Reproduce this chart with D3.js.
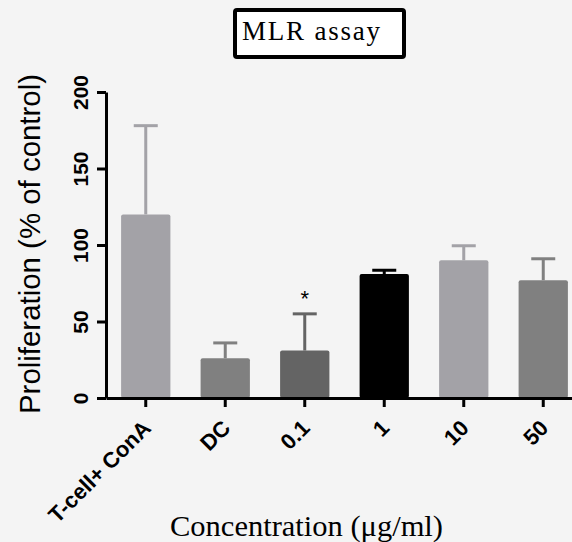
<!DOCTYPE html>
<html>
<head>
<meta charset="utf-8">
<script src="https://cdn.jsdelivr.net/npm/d3@7"></script>
<style>
  body { margin: 0; background: #f4f4f4; }
  svg { display: block; }
</style>
</head>
<body>
<div id="chart"></div>
<script>
// data
var categories = ["T-cell+ ConA", "DC", "0.1", "1", "10", "50"];
var means = [120, 26, 31, 81, 90, 77];
var errors = [58, 10, 24, 2.5, 9.5, 14];
var barColors = ["#a3a2a7", "#808080", "#646464", "#000000", "#a3a2a7", "#808080"];
var yTicks = [0, 50, 100, 150, 200];
var stars = ["", "", "*", "", "", ""];

var width = 572;
var height = 542;
var sans = "'Liberation Sans', Arial, Helvetica, sans-serif";
var serif = "'Liberation Serif', 'Times New Roman', Times, serif";

var svg = d3.select('#chart')
    .append('svg')
    .attr('width', width)
    .attr('height', height);

var data = categories.map(function(c, i) {
    return {cat: c, mean: means[i], err: errors[i], color: barColors[i], star: stars[i]};
});

var scaleX = d3.scaleBand()
    .domain(categories)
    .range([106, 583])
    .paddingInner(0.38)
    .paddingOuter(0.19);

var scaleY = d3.scaleLinear()
    .domain([0, 200])
    .range([398, 92]);

// bars
svg.append('g')
    .selectAll('rect')
    .data(data)
    .enter()
    .append('rect')
    .attr('x', (d) => scaleX(d.cat))
    .attr('y', (d) => scaleY(d.mean))
    .attr('width', scaleX.bandwidth())
    .attr('height', (d) => scaleY(0) - scaleY(d.mean))
    .attr('rx', 2)
    .attr('fill', (d) => d.color);

// error bars (upper only)
var err = svg.append('g')
    .selectAll('g')
    .data(data)
    .enter()
    .append('g')
    .attr('stroke', (d) => d.color)
    .attr('stroke-width', 3);

err.append('line')
    .attr('x1', (d) => scaleX(d.cat) + scaleX.bandwidth() / 2)
    .attr('x2', (d) => scaleX(d.cat) + scaleX.bandwidth() / 2)
    .attr('y1', (d) => scaleY(d.mean))
    .attr('y2', (d) => scaleY(d.mean + d.err));

err.append('line')
    .attr('x1', (d) => scaleX(d.cat) + scaleX.bandwidth() / 2 - 12)
    .attr('x2', (d) => scaleX(d.cat) + scaleX.bandwidth() / 2 + 12)
    .attr('y1', (d) => scaleY(d.mean + d.err))
    .attr('y2', (d) => scaleY(d.mean + d.err));

// significance star
svg.append('g')
    .selectAll('text')
    .data(data.filter((d) => d.star))
    .enter()
    .append('text')
    .attr('x', (d) => scaleX(d.cat) + scaleX.bandwidth() / 2)
    .attr('y', (d) => scaleY(d.mean + d.err) - 8)
    .attr('text-anchor', 'middle')
    .style('font-family', sans)
    .style('font-size', '22px')
    .text((d) => d.star);

// axes
var y_axis = d3.axisLeft(scaleY).tickValues(yTicks).tickSize(9).tickSizeOuter(0);
var x_axis = d3.axisBottom(scaleX).tickSize(9).tickSizeOuter(0);

var gy = svg.append('g')
    .attr('transform', 'translate(106,0)')
    .call(y_axis);

var gx = svg.append('g')
    .attr('transform', 'translate(0,398)')
    .call(x_axis);

[gy, gx].forEach(function(g) {
    g.selectAll('.domain').attr('stroke', '#000').attr('stroke-width', 3);
    g.selectAll('.tick line').attr('stroke', '#000').attr('stroke-width', 3);
    g.selectAll('.tick text')
        .attr('fill', '#000')
        .style('font-family', sans)
        .style('font-weight', 'bold')
        .style('font-size', '21px');
});

gy.selectAll('.tick text')
    .attr('transform', 'rotate(-90)')
    .attr('x', 0)
    .attr('y', -18)
    .attr('dy', 0)
    .attr('text-anchor', 'middle');

gx.selectAll('.tick text')
    .attr('transform', 'translate(1,26) rotate(-45)')
    .attr('x', 0)
    .attr('y', 0)
    .attr('dy', '0.35em')
    .attr('text-anchor', 'end')
    .style('font-size', '22px');

// axis titles
svg.append('text')
    .attr('transform', 'translate(40,244) rotate(-90)')
    .attr('text-anchor', 'middle')
    .attr('textLength', 340)
    .attr('lengthAdjust', 'spacingAndGlyphs')
    .style('font-family', sans)
    .style('font-size', '29px')
    .text('Proliferation (% of control)');

svg.append('text')
    .attr('x', 170)
    .attr('y', 536)
    .attr('textLength', 273)
    .attr('lengthAdjust', 'spacingAndGlyphs')
    .style('font-family', serif)
    .style('font-size', '29px')
    .text('Concentration (\u03bcg/ml)');

// title box
svg.append('rect')
    .attr('x', 235)
    .attr('y', 10)
    .attr('width', 169)
    .attr('height', 47)
    .attr('rx', 2)
    .attr('fill', '#fff')
    .attr('stroke', '#000')
    .attr('stroke-width', 4);

svg.append('text')
    .attr('x', 242)
    .attr('y', 40)
    .attr('textLength', 138)
    .attr('lengthAdjust', 'spacing')
    .style('font-family', serif)
    .style('font-size', '27px')
    .text('MLR assay');
</script>
</body>
</html>
